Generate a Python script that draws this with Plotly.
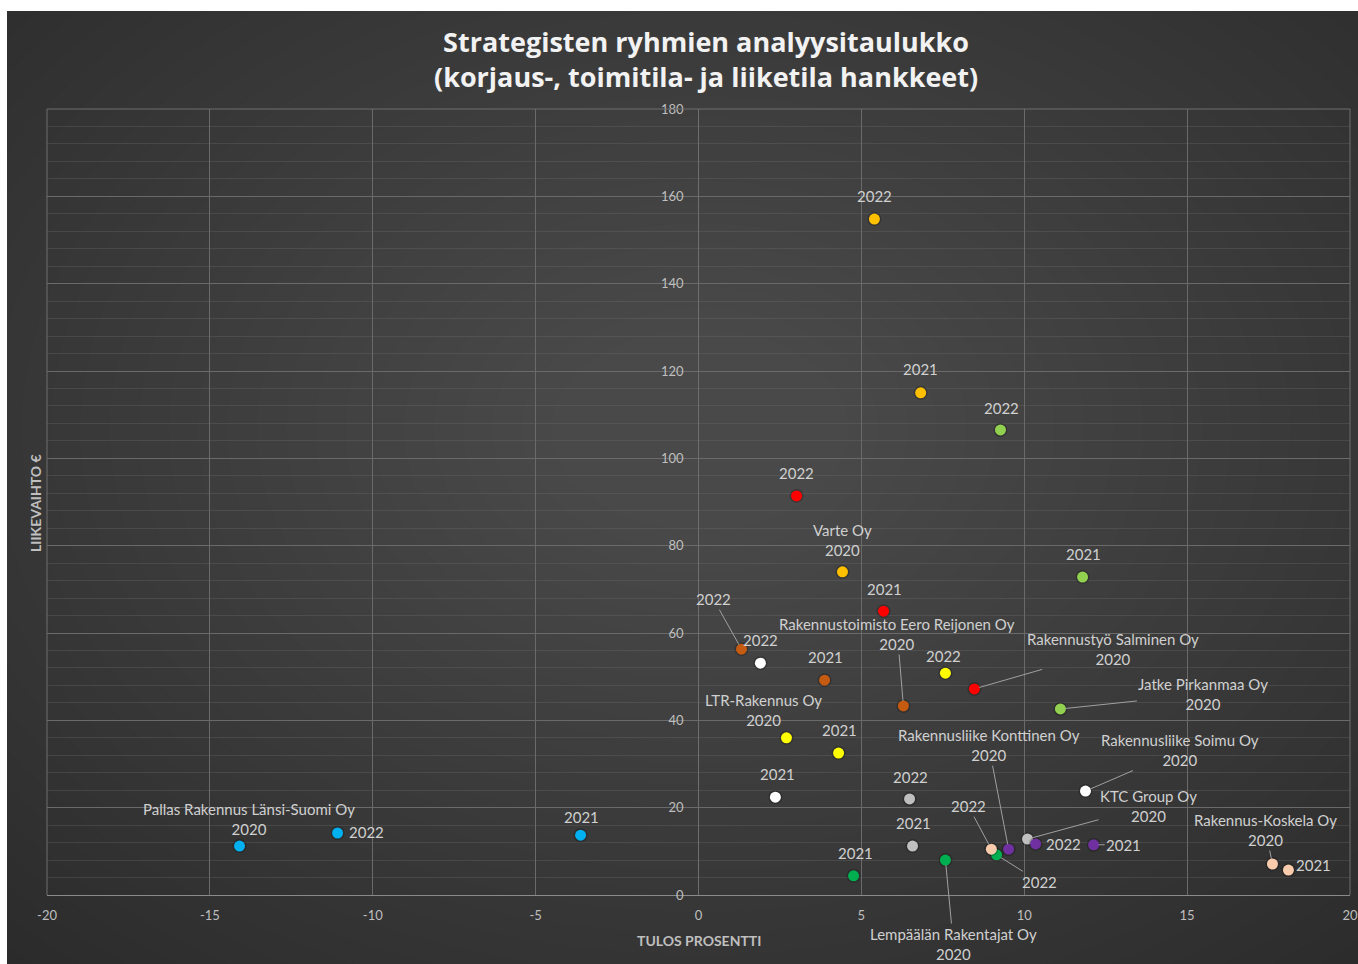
import plotly.graph_objects as go

# ---------------- data ----------------
companies = [
    "Pallas Rakennus Länsi-Suomi Oy",
    "Varte Oy",
    "Jatke Pirkanmaa Oy",
    "Rakennustyö Salminen Oy",
    "Rakennustoimisto Eero Reijonen Oy",
    "LTR-Rakennus Oy",
    "Rakennusliike Soimu Oy",
    "KTC Group Oy",
    "Rakennusliike Konttinen Oy",
    "Lempäälän Rakentajat Oy",
    "Rakennus-Koskela Oy",
]
years = ["2020", "2021", "2022"]

# tulos prosentti (x) per year 2020, 2021, 2022
tulos = [
    [-14.09, -3.62, -11.08],
    [4.42, 6.82, 5.40],
    [11.11, 11.79, 9.27],
    [8.47, 5.68, 3.01],
    [6.29, 3.87, 1.32],
    [2.70, 4.30, 7.58],
    [11.88, 2.36, 1.90],
    [10.10, 6.57, 6.48],
    [9.52, 12.13, 10.35],
    [7.58, 4.76, 9.15],
    [17.62, 18.11, 8.99],
]
# liikevaihto (y) per year 2020, 2021, 2022
liikevaihto = [
    [11.2, 13.7, 14.2],
    [74.0, 115.0, 154.8],
    [42.6, 72.8, 106.5],
    [47.2, 65.0, 91.4],
    [43.3, 49.2, 56.3],
    [36.0, 32.5, 50.8],
    [23.8, 22.4, 53.1],
    [12.8, 11.2, 22.0],
    [10.5, 11.5, 11.7],
    [8.0, 4.4, 9.2],
    [7.1, 5.7, 10.5],
]
x_tick_vals = [-20, -15, -10, -5, 0, 5, 10, 15, 20]
x_tick_text = ["-20", "-15", "-10", "-5", "0", "5", "10", "15", "20"]
y_tick_vals = [0, 20, 40, 60, 80, 100, 120, 140, 160, 180]
y_tick_text = ["0", "20", "40", "60", "80", "100", "120", "140", "160", "180"]

# ---------------- styles ----------------
colors = ["#00B0F0", "#FFC000", "#92D050", "#FF0000", "#C55A11", "#FFFF00",
          "#FFFFFF", "#BFBFBF", "#7030A0", "#00B050", "#F8CBAD"]

# label placement per company per year: (dx, dy, arrow) in pixels, dy positive = down
label_pos = [
    [(9, -27, False), (1, -18, False), (29, -1, False)],
    [(0, -32, False), (0, -24, False), (0, -23, False)],
    [(143, -15, True), (1, -23, False), (1, -22, False)],
    [(139, -40, True), (1, -22, False), (0, -23, False)],
    [(-6, -72, True), (1, -23, False), (-28, -50, True)],
    [(-23, -28, False), (1, -23, False), (-2, -17, False)],
    [(95, -41, True), (2, -23, False), (0, -23, False)],
    [(121, -33, True), (1, -23, False), (1, -22, False)],
    [(-20, -104, True), (30, 0, True), (28, 0, False)],
    [(8, 84, True), (2, -23, False), (43, 27, True)],
    [(-7, -34, True), (25, -5, False), (-23, -43, True)],
]

FONT = "Lato, 'Open Sans', sans-serif"
TITLE_FONT = "'Open Sans', Lato, sans-serif"
LABEL_COLOR = "#D0D0D0"

# plot area in pixels
W, H = 1358, 964
L, R, T, B = 47, 1350, 109, 895


def px_to_paper_x(px):
    return (px - L) / (R - L)


def px_to_paper_y(py):
    return (B - py) / (B - T)


fig = go.Figure()

for i, name in enumerate(companies):
    # subtle shadow
    fig.add_trace(go.Scatter(
        x=tulos[i], y=liikevaihto[i], mode="markers",
        marker=dict(size=14, color="rgba(0,0,0,0.22)", line=dict(width=0)),
        hoverinfo="skip", showlegend=False,
    ))
    fig.add_trace(go.Scatter(
        x=tulos[i], y=liikevaihto[i], mode="markers", name=name,
        marker=dict(size=11, color=colors[i], line=dict(width=0)),
        showlegend=False,
    ))

annotations = []
for i, name in enumerate(companies):
    for j, yr in enumerate(years):
        dx, dy, arrow = label_pos[i][j]
        text = f"{name}<br>{yr}" if j == 0 else yr
        common = dict(x=tulos[i][j], y=liikevaihto[i][j], xref="x", yref="y",
                      text=text, font=dict(family=FONT, size=15, color=LABEL_COLOR),
                      align="center")
        if arrow:
            annotations.append(dict(**common, showarrow=True, ax=dx, ay=dy,
                                    arrowhead=0, arrowwidth=1, arrowcolor="#A0A0A0",
                                    standoff=5))
        else:
            annotations.append(dict(**common, showarrow=False, xshift=dx, yshift=-dy))

# title
annotations.append(dict(
    x=px_to_paper_x(706), y=px_to_paper_y(59), xref="paper", yref="paper",
    text="<b>Strategisten ryhmien analyysitaulukko<br>(korjaus-, toimitila- ja liiketila hankkeet)</b>",
    showarrow=False, font=dict(family=TITLE_FONT, size=27, color="#F2F2F2"),
    align="center", xanchor="center", yanchor="middle",
))
# axis titles
annotations.append(dict(
    x=px_to_paper_x(35), y=px_to_paper_y(503), xref="paper", yref="paper",
    text="<b>LIIKEVAIHTO €</b>", textangle=-90, showarrow=False,
    font=dict(family=FONT, size=14, color="#BFBFBF"), xanchor="center", yanchor="middle",
))
annotations.append(dict(
    x=px_to_paper_x(699), y=px_to_paper_y(941), xref="paper", yref="paper",
    text="<b>TULOS PROSENTTI</b>", showarrow=False,
    font=dict(family=FONT, size=14, color="#BFBFBF"), xanchor="center", yanchor="middle",
))

# background: white page with dark chart area and soft radial gradient (opaque rings)
shapes = [dict(
    type="rect", xref="paper", yref="paper", layer="below",
    x0=px_to_paper_x(7), x1=px_to_paper_x(1360), y0=px_to_paper_y(966), y1=px_to_paper_y(11),
    fillcolor="rgb(38,38,38)", line=dict(width=0),
)]
cx, cy = 700, 430
n = 34
for k in range(n):
    f = 1 - k / n
    rx, ry = 120 + 1000 * f, 80 + 720 * f
    v = 40 + k
    shapes.append(dict(
        type="circle", xref="paper", yref="paper", layer="below",
        x0=px_to_paper_x(cx - rx), x1=px_to_paper_x(cx + rx),
        y0=px_to_paper_y(cy + ry), y1=px_to_paper_y(cy - ry),
        fillcolor=f"rgb({v},{v},{v})", line=dict(width=0),
    ))
# white border strips to cover gradient spill outside the chart area
shapes.append(dict(type="rect", xref="paper", yref="paper", layer="below",
                   x0=px_to_paper_x(-200), x1=px_to_paper_x(7),
                   y0=px_to_paper_y(1200), y1=px_to_paper_y(-200),
                   fillcolor="#FFFFFF", line=dict(width=0)))
shapes.append(dict(type="rect", xref="paper", yref="paper", layer="below",
                   x0=px_to_paper_x(-200), x1=px_to_paper_x(1600),
                   y0=px_to_paper_y(11), y1=px_to_paper_y(-200),
                   fillcolor="#FFFFFF", line=dict(width=0)))
# plot borders (left, right, top)
for (x0, x1, y0, y1) in [(0, 0, 0, 1), (1, 1, 0, 1), (0, 1, 1, 1)]:
    shapes.append(dict(type="line", xref="paper", yref="paper", x0=x0, x1=x1, y0=y0, y1=y1,
                       line=dict(color="#6E6E6E", width=1), layer="above"))

fig.update_layout(
    width=W, height=H,
    margin=dict(l=L, r=W - R, t=T, b=H - B, autoexpand=False),
    paper_bgcolor="#FFFFFF",
    plot_bgcolor="rgba(0,0,0,0)",
    showlegend=False,
    annotations=annotations,
    shapes=shapes,
    font=dict(family=FONT),
    xaxis=dict(
        range=[-20, 20], tickvals=x_tick_vals, ticktext=x_tick_text,
        automargin=False,
        showgrid=True, gridcolor="#6A6A6A", gridwidth=1,
        zeroline=True, zerolinecolor="#6E6E6E", zerolinewidth=1,
        showline=True, linecolor="#8A8A8A", linewidth=1,
        ticks="", tickfont=dict(family=FONT, size=13, color="#BFBFBF"),
        ticklabelstandoff=8,
    ),
    yaxis=dict(
        range=[0, 180], tickvals=y_tick_vals, ticktext=y_tick_text,
        automargin=False,
        anchor="free", position=0.5,
        showgrid=True, gridcolor="#6A6A6A", gridwidth=1,
        zeroline=False, showline=False,
        ticks="", tickfont=dict(family=FONT, size=13, color="#BFBFBF"),
        ticklabelstandoff=15,
        minor=dict(dtick=4, showgrid=True, gridcolor="rgba(120,120,120,0.28)", gridwidth=1),
    ),
)

fig.write_html("out.html")
